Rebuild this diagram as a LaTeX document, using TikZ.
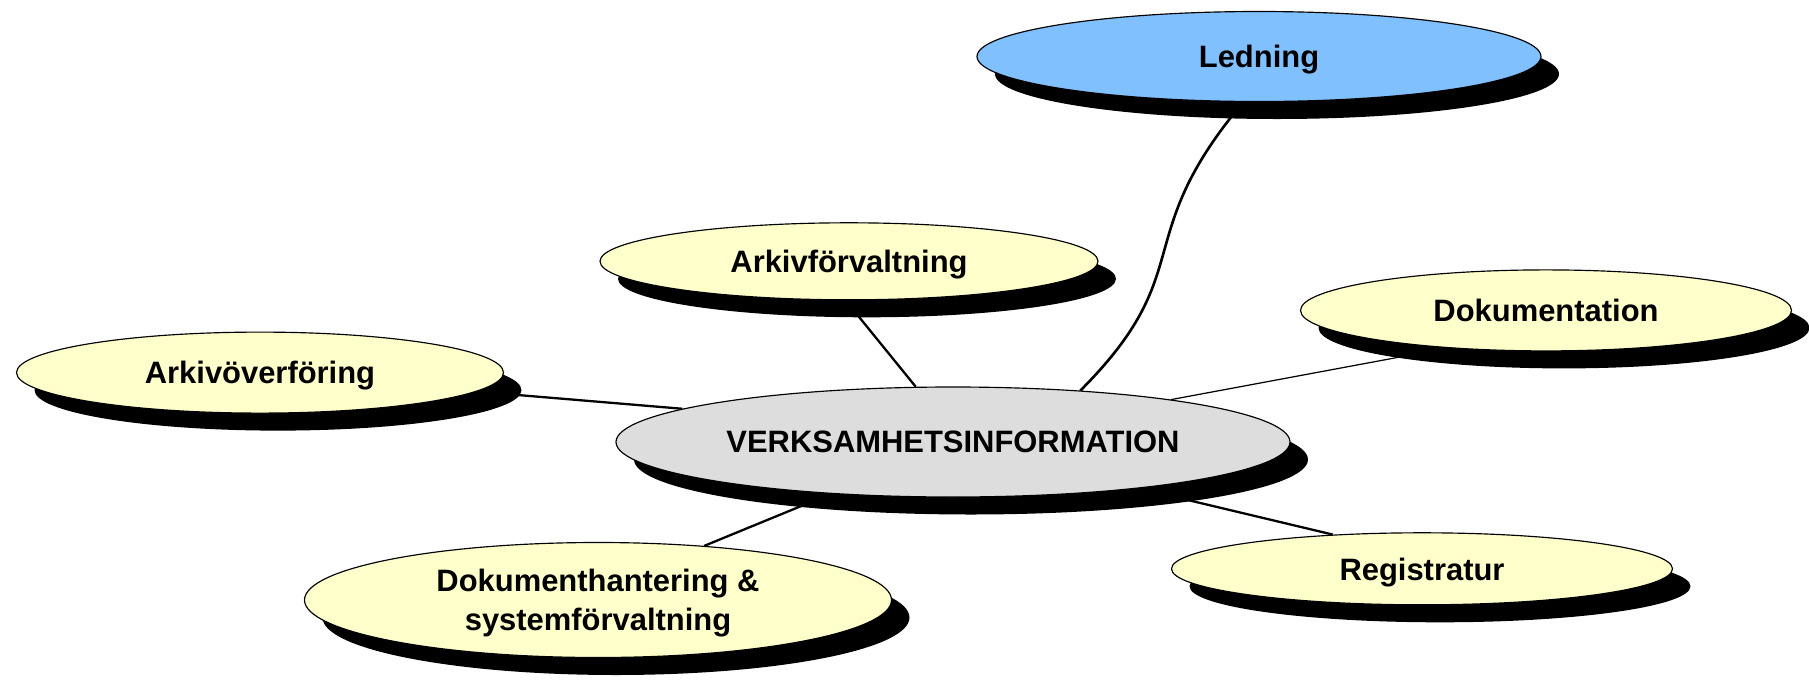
\documentclass[tikz,border=0pt]{standalone}
\usepackage{fontspec}
\setmainfont{Liberation Sans}
\usetikzlibrary{shapes.geometric,shadows,backgrounds}

\definecolor{paleyellow}{RGB}{255,255,204}
\definecolor{skyblue}{RGB}{128,192,255}
\definecolor{lightgrey}{RGB}{221,221,221}

% slide background: faint grey at both sides, white in the middle
\pgfdeclarehorizontalshading{slidebg}{100bp}{color(0bp)=(black!8); color(12bp)=(white); color(88bp)=(white); color(100bp)=(black!6)}

\begin{document}
\begin{tikzpicture}[
  bubble/.style={ellipse, draw=black, line width=0.33pt, inner sep=0pt,
    font=\bfseries\fontsize{8.8}{11.2}\selectfont, align=center, text=black,
    text depth=0pt,
    drop shadow={shadow xshift=1.8mm, shadow yshift=-1.75mm, fill=black, opacity=1}},
  topic/.style={bubble, fill=paleyellow},
  link/.style={draw=black, line width=0.65pt},
  thinlink/.style={draw=black, line width=0.35pt},
  curvelink/.style={draw=black, line width=0.75pt},
]
\useasboundingbox (0,0) rectangle (18.09,-6.81);

\node[bubble, fill=skyblue, minimum width=5.64cm, minimum height=0.90cm] (led) at (12.59,-0.565) {Ledning};
\node[topic, minimum width=4.98cm, minimum height=0.77cm] (afv) at (8.49,-2.613) {Arkivförvaltning};
\node[topic, minimum width=4.87cm, minimum height=0.81cm] (aov) at (2.60,-3.726) {Arkivöverföring};
\node[topic, minimum width=4.91cm, minimum height=0.81cm] (dok) at (15.46,-3.104) {Dokumentation};
\node[bubble, fill=lightgrey, minimum width=6.74cm, minimum height=1.10cm] (vi) at (9.53,-4.42) {VERKSAMHETSINFORMATION};
\node[topic, minimum width=5.87cm, minimum height=1.15cm] (dhs) at (5.98,-6.00) {Dokumenthantering \&\\ systemförvaltning};
\node[topic, minimum width=5.01cm, minimum height=0.72cm] (reg) at (14.22,-5.688) {Registratur};

\begin{pgfonlayer}{background}
  \shade[shading=slidebg] (0,0) rectangle (18.09,-6.81);
  \draw[link] (aov.-5) -- (vi.173);
  \draw[link] (afv.-95) -- (vi.124);
  \draw[curvelink] (led.-109) .. controls +(-130:1.8) and +(45:1.7) .. (vi.22);
  \draw[thinlink] (dok.-159) -- (vi.11);
  \draw[link] (vi.-14) -- (reg.159);
  \draw[link] (vi.-157) -- (dhs.27);
\end{pgfonlayer}
\end{tikzpicture}
\end{document}
